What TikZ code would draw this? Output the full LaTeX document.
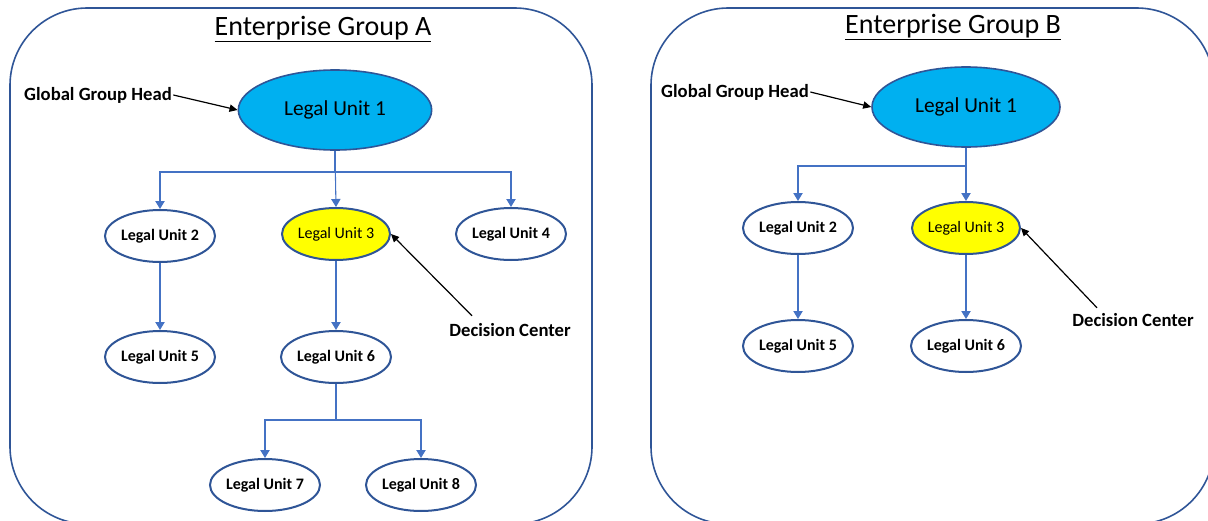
\documentclass[tikz,border=0pt]{standalone}
\usepackage{fontspec}
\setmainfont{Carlito}
\usetikzlibrary{arrows.meta,positioning,shapes,calc}

\definecolor{frameblue}{RGB}{47,85,151}
\definecolor{linkblue}{RGB}{68,114,196}
\definecolor{headcyan}{RGB}{0,176,240}
\definecolor{dcyellow}{RGB}{255,255,0}

\begin{document}
\begin{tikzpicture}[
    x=0.75pt, y=-0.75pt,
    % Define styles
    group/.style={draw=frameblue, line width=1.2pt, rounded corners=58pt},
    title/.style={font=\fontsize{21}{25}\selectfont},
    head/.style={ellipse, draw=frameblue, line width=1.2pt, fill=headcyan, minimum width=145pt, minimum height=60pt, font=\fontsize{16}{19}\selectfont},
    unit/.style={ellipse, draw=frameblue, line width=1.5pt, fill=white, minimum width=81pt, minimum height=39pt, inner sep=0pt, font=\fontsize{12}{14}\selectfont\bfseries},
    dc/.style={unit, fill=dcyellow, font=\fontsize{12}{14}\selectfont},
    note/.style={font=\fontsize{14}{16}\selectfont\bfseries, inner sep=1pt},
    link/.style={linkblue, line width=0.8pt, -{Triangle[width=7pt,length=6pt]}},
    pointer/.style={black, line width=0.9pt, -{Triangle[width=5.5pt,length=6pt]}}
]
\useasboundingbox (0,0) rectangle (1208,521);

% Group frames
\draw[group] (10,8) rectangle (592,524);
\draw[group] (651,8) rectangle (1214,524);

% Titles
\node[title] (titleA) at (323,29) {\underline{Enterprise Group A}};
\node[title] (titleB) at (953,27) {\underline{Enterprise Group B}};

% Enterprise Group A
\node[head] (a1) at (335,110) {Legal Unit 1};
\node[unit] (a2) at (160,236) {Legal Unit 2};
\node[dc]   (a3) at (336,234) {Legal Unit 3};
\node[unit] (a4) at (511,234) {Legal Unit 4};
\node[unit] (a5) at (160,357) {Legal Unit 5};
\node[unit] (a6) at (336,357) {Legal Unit 6};
\node[unit] (a7) at (265,485) {Legal Unit 7};
\node[unit] (a8) at (421,485) {Legal Unit 8};

\node[note] (ggha) at (98,95) {Global Group Head};
\node[note] (dca) at (510,330) {Decision Center};

\coordinate (busA) at (0,172);
\coordinate (busA2) at (0,420);
\draw[link] (a1.south) |- (busA -| a2) -- (a2.north);
\draw[link] (a1.south) |- (busA -| a4) -- (a4.north);
\draw[link] (a1.south) -- (a3.north);
\draw[link] (a2) -- (a5);
\draw[link] (a3) -- (a6);
\draw[link] (a6.south) |- (busA2 -| a7) -- (a7.north);
\draw[link] (a6.south) |- (busA2 -| a8) -- (a8.north);

\draw[pointer] (ggha.east) -- (a1.west);
\draw[pointer] ($(dca.north)+(-38,-6)$) -- (a3.east);

% Enterprise Group B
\node[head, minimum width=141pt] (b1) at (966,107) {Legal Unit 1};
\node[unit] (b2) at (798,228) {Legal Unit 2};
\node[dc]   (b3) at (966,228) {Legal Unit 3};
\node[unit] (b5) at (798,346) {Legal Unit 5};
\node[unit] (b6) at (966,346) {Legal Unit 6};

\node[note] (gghb) at (735,92) {Global Group Head};
\node[note] (dcb) at (1133,320) {Decision Center};

\coordinate (busB) at (0,166);
\draw[link] (b1.south) |- (busB -| b2) -- (b2.north);
\draw[link] (b1.south) -- (b3.north);
\draw[link] (b2) -- (b5);
\draw[link] (b3) -- (b6);

\draw[pointer] (gghb.east) -- (b1.west);
\draw[pointer] ($(dcb.north)+(-36,-4)$) -- (b3.east);

\end{tikzpicture}
\end{document}
